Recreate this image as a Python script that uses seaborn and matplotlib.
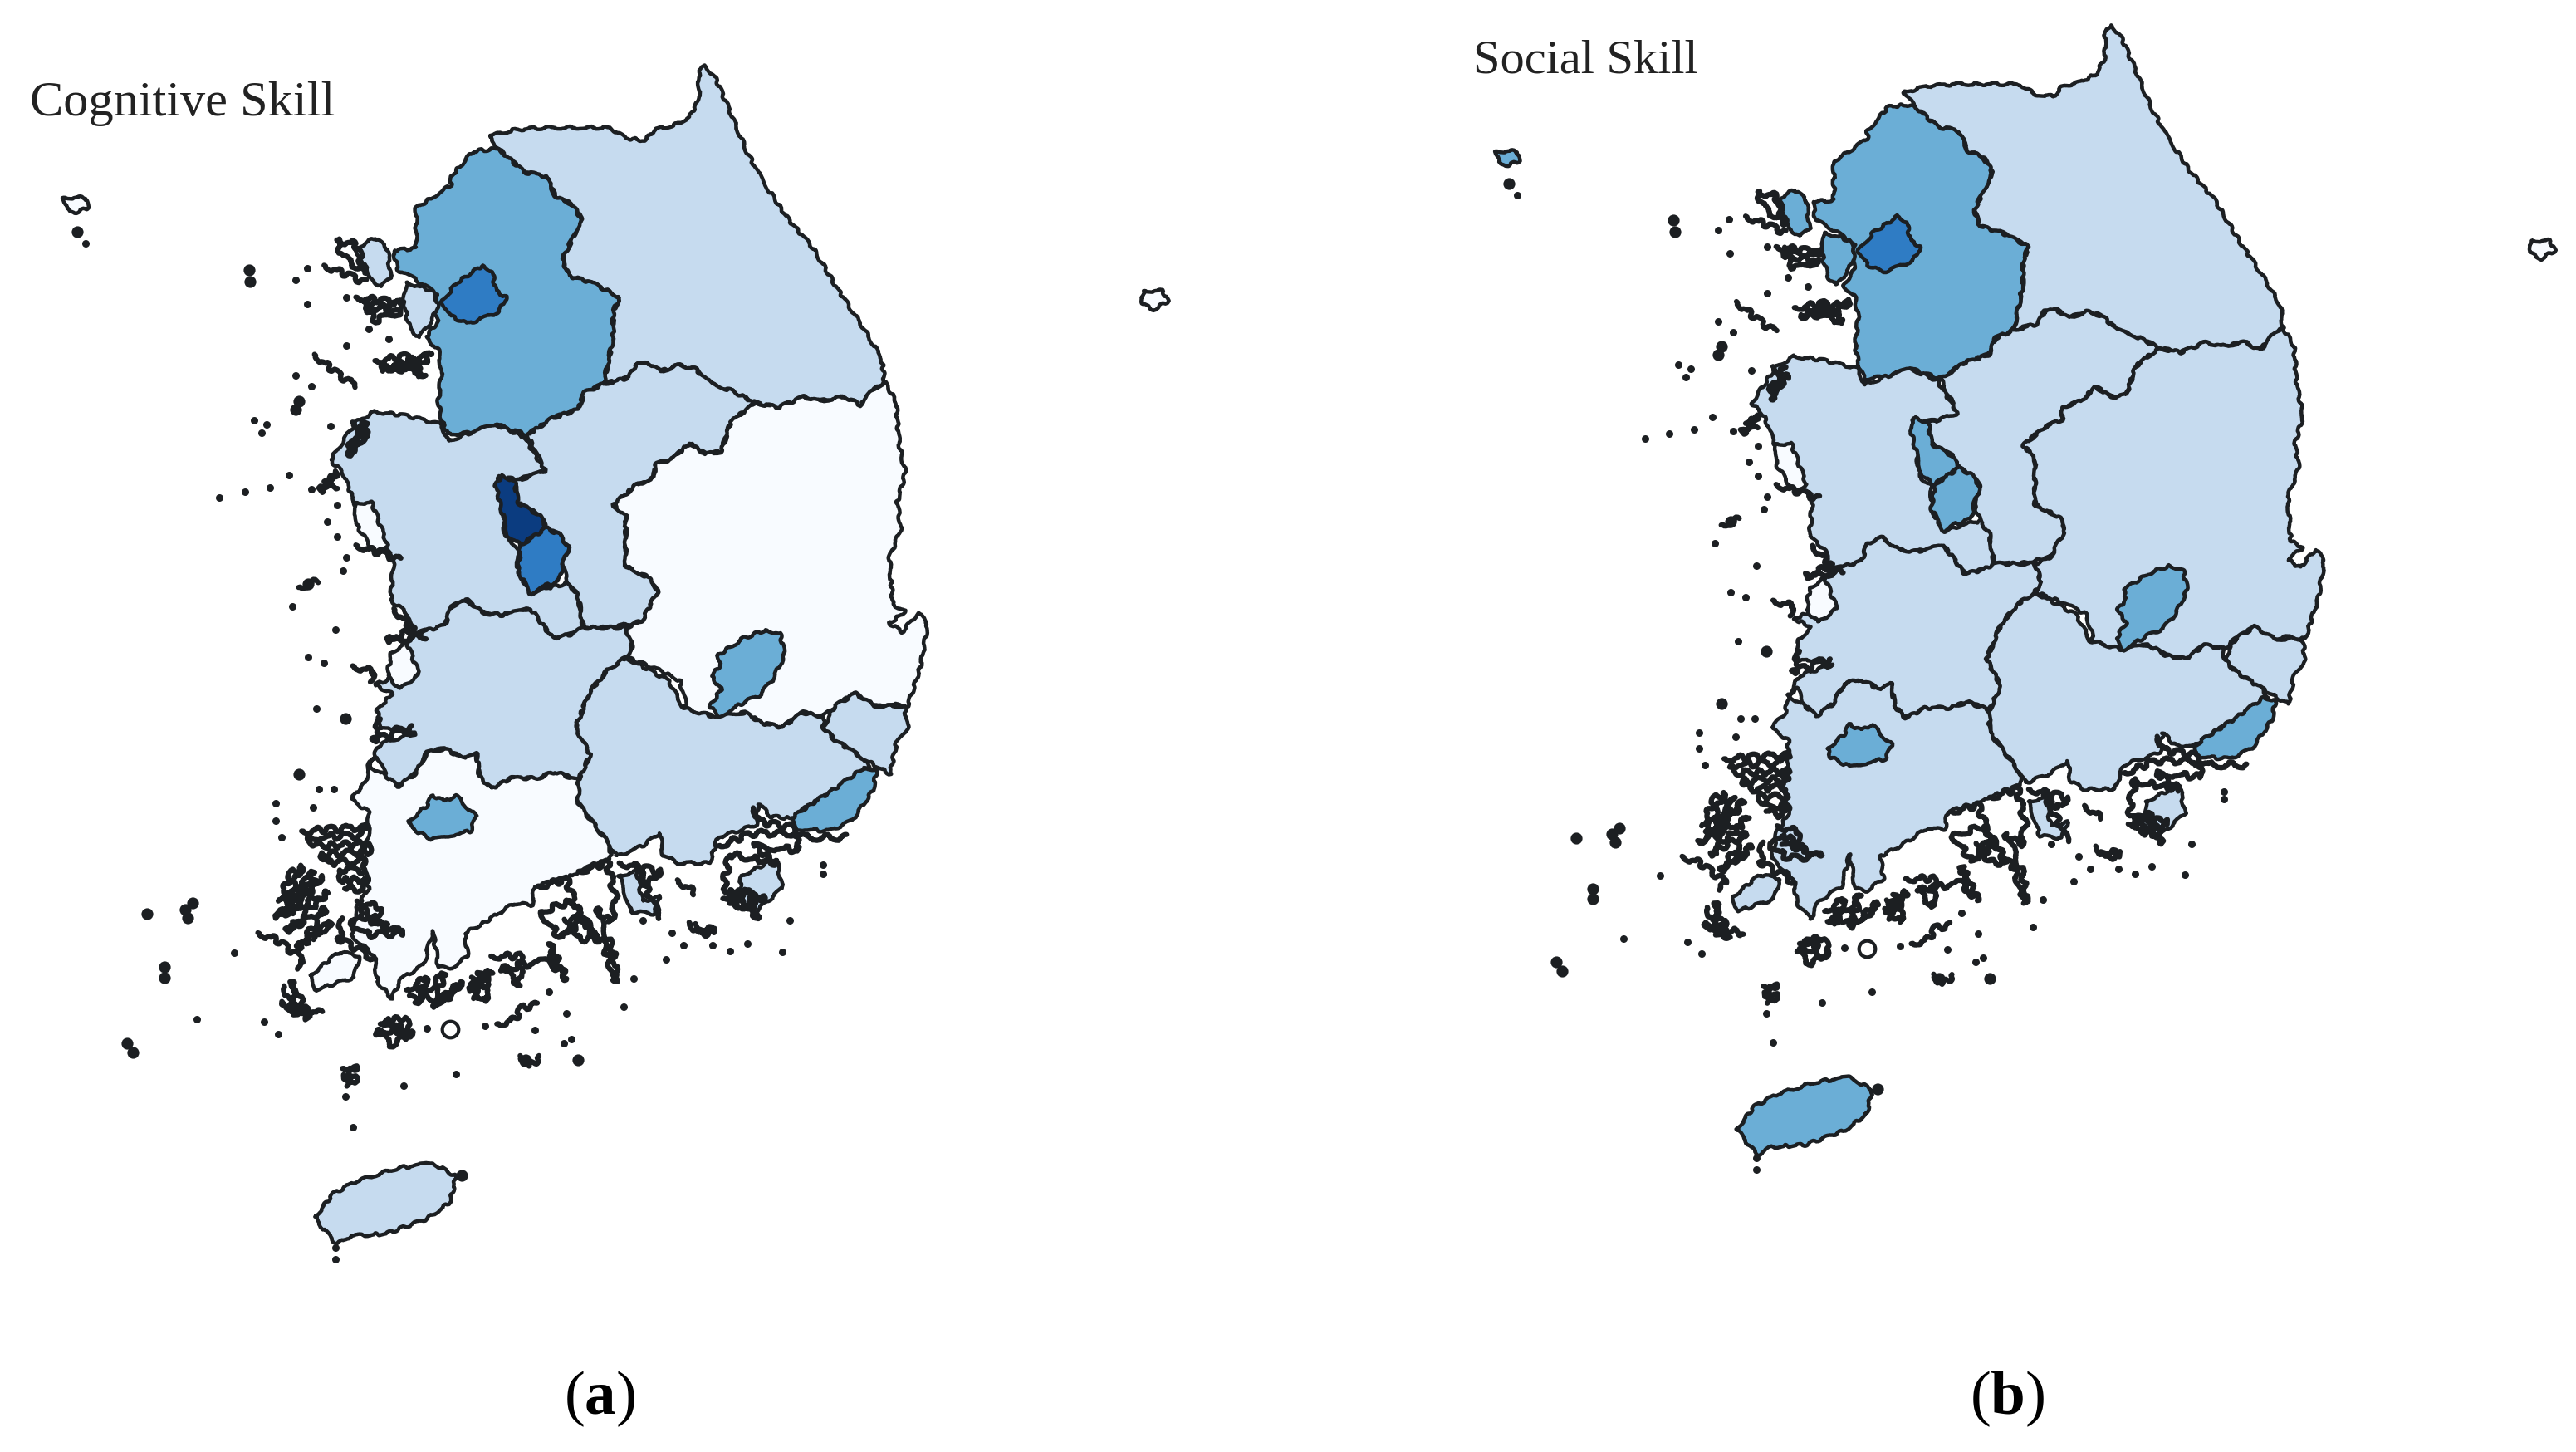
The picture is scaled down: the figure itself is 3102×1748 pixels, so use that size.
import matplotlib
matplotlib.use("Agg")
import matplotlib.pyplot as plt
from matplotlib.patches import Polygon
import seaborn as sns

sns.set_theme(style="white")
plt.rcParams["font.family"] = ["Liberation Serif", "DejaVu Serif"]
plt.rcParams["mathtext.fontset"] = "custom"
plt.rcParams["mathtext.rm"] = "Liberation Serif"
plt.rcParams["mathtext.bf"] = "Liberation Serif:bold"

W, H = 3102, 1749
INK = "#1c1f22"
CLASS_COLORS = ["#F8FBFF", "#C6DBEF", "#6BAED6", "#2F7CC4", "#0B3C80"]
PALETTE = sns.color_palette(CLASS_COLORS)

def n(pts):  # northern trace units to map units
    return [(x / 1.307, 50 + y / 1.96) for x, y in pts]
def s(pts):  # southern trace units to map units
    return [(100 + x / 1.425, 800 + y / 1.96) for x, y in pts]

GANGWON = n([(1110,60),(1125,85),(1150,170),(1175,260),(1200,330),(1240,420),(1280,490),(1320,590),(1360,680),(1388,750),(1392,805),(1370,830),(1355,860),(1330,840),(1290,850),(1265,840),(1225,865),(1190,855),(1150,825),(1120,810),(1095,775),(1070,765),(1040,780),(1020,760),(1000,765),(990,795),(950,810),(965,700),(965,640),(975,605),(930,570),(895,555),(885,515),(900,470),(915,420),(900,385),(875,370),(860,320),(825,310),(810,290),(785,255),(770,225),(810,210),(860,205),(910,205),(960,205),(985,230),(1015,235),(1030,210),(1060,200),(1085,180),(1100,140),(1100,70)])
GYEONGGI = n([(785,255),(810,290),(825,310),(860,320),(875,370),(900,385),(915,420),(900,470),(885,515),(895,555),(930,570),(975,605),(965,640),(965,700),(950,810),(920,830),(910,870),(870,890),(830,930),(780,905),(740,925),(705,930),(695,895),(690,850),(695,780),(690,730),(670,700),(690,660),(680,620),(690,600),(650,560),(625,540),(620,495),(655,490),(655,395),(710,340),(710,320),(745,260)])
SEOUL = n([(760,530),(775,545),(780,590),(797,605),(785,640),(760,655),(735,668),(710,650),(695,615),(720,570),(740,550)])
INCHEON = n([(640,570),(680,590),(690,620),(680,660),(660,700),(645,680),(635,620)])
GANGHWA = n([(560,490),(590,465),(610,490),(615,560),(600,580),(580,560)])
BAENGNYEONG = n([(100,370),(135,370),(138,395),(120,405),(105,398)])
ULLEUNG = n([(1800,590),(1830,590),(1838,615),(1815,635),(1797,620)])
CHUNGNAM = n([(590,875),(640,885),(695,905),(705,945),(740,925),(780,905),(825,935),(858,1015),(830,1030),(810,1035),(785,1030),(790,1100),(795,1170),(815,1195),(815,1250),(835,1305),(865,1290),(895,1280),(910,1310),(918,1385),(900,1400),(870,1410),(850,1370),(835,1340),(790,1355),(760,1350),(735,1320),(710,1335),(700,1380),(650,1400),(640,1350),(615,1320),(620,1220),(600,1190),(575,1150),(555,1080),(540,1020),(520,990),(540,945),(560,900)])
SEJONG = n([(790,1025),(810,1040),(815,1090),(850,1120),(860,1150),(820,1190),(800,1170),(790,1110),(780,1050)])
DAEJEON = n([(820,1190),(860,1150),(880,1165),(895,1195),(885,1240),(880,1275),(850,1290),(835,1305),(815,1250)])
CHUNGBUK = n([(950,810),(990,795),(1000,765),(1020,760),(1040,780),(1070,765),(1095,775),(1120,810),(1150,825),(1190,855),(1175,870),(1150,900),(1135,970),(1110,975),(1085,950),(1060,985),(1030,1000),(1030,1030),(1000,1050),(965,1095),(985,1120),(985,1240),(1025,1270),(1035,1300),(1010,1370),(960,1385),(918,1385),(910,1310),(895,1280),(885,1240),(895,1195),(880,1165),(860,1150),(850,1120),(815,1090),(810,1040),(858,1015),(830,930),(870,890),(910,870),(920,830)])
GYEONGBUK = n([(1190,855),(1225,865),(1265,840),(1290,850),(1330,840),(1355,860),(1370,830),(1392,805),(1410,850),(1415,950),(1425,1020),(1412,1090),(1418,1150),(1400,1220),(1405,1330),(1425,1345),(1400,1375),(1420,1395),(1445,1350),(1460,1375),(1450,1470)]) + s([(1415,100),(1380,95),(1355,100),(1325,70),(1290,100),(1270,125),(1235,115),(1200,150),(1165,140),(1135,115),(1085,125),(1030,105)]) + n([(1080,1568),(1070,1510),(1030,1480),(985,1455),(995,1430),(985,1385),(1010,1370),(1035,1300),(1025,1270),(985,1240),(985,1120),(965,1095),(1000,1050),(1030,1030),(1030,1000),(1060,985),(1085,950),(1110,975),(1135,970),(1150,900),(1175,870)])
DAEGU = n([(1205,1390),(1228,1400),(1235,1450),(1215,1510),(1195,1545),(1172,1560),(1130,1597),(1118,1570),(1135,1530),(1120,1500),(1135,1470),(1130,1450),(1155,1425),(1170,1410)])
ULSAN = s([(1270,150),(1290,100),(1325,70),(1360,100),(1410,100),(1415,150),(1395,190),(1385,260),(1365,245),(1335,220),(1290,180)])
GYEONGNAM = s([(931,-15),(1005,40),(1025,90),(1030,105),(1085,125),(1135,115),(1165,140),(1200,150),(1235,115),(1270,125),(1270,150),(1290,180),(1335,220),(1350,245),(1300,290),(1240,340),(1215,365),(1180,360),(1160,330),(1155,380),(1090,410),(1075,470),(1020,470),(995,450),(990,400),(960,430),(915,455),(905,430),(850,330),(850,275),(870,215),(845,150),(870,65),(900,15)])
BUSAN = s([(1340,245),(1362,250),(1355,300),(1320,370),(1280,395),(1225,390),(1215,365),(1240,340),(1290,295)])
JEONBUK = n([(650,1400),(700,1380),(710,1335),(735,1320),(760,1350),(790,1355),(835,1340),(850,1370),(870,1410),(900,1400),(918,1385),(985,1385),(995,1430),(985,1455)]) + s([(900,15),(870,65),(845,150),(870,215),(850,275),(810,255),(780,270),(735,270),(700,295),(680,265),(675,210),(655,225),(620,200),(590,210),(570,260),(540,290),(520,265),(505,220),(490,240),(510,190),(555,170),(570,165),(550,150),(510,155),(505,110),(530,70),(500,50),(555,20)]) + n([(655,1500),(640,1420)])
SAEMANGEUM = n([(615,1445),(640,1420),(660,1495),(630,1530),(610,1500)])
JEONNAM = s([(490,240),(520,265),(540,290),(570,260),(590,210),(620,200),(655,225),(675,210),(680,265),(700,295),(735,270),(780,270),(810,255),(850,275),(850,330),(905,430),(905,460),(850,490),(840,500),(775,525),(770,570),(740,565),(690,610),(655,635),(660,690),(630,720),(610,715),(600,630),(585,710),(545,745),(530,790),(505,750),(500,690),(460,640),(470,575),(490,530),(480,440),(490,410),(490,350),(460,320),(485,280)])
GWANGJU = s([(560,370),(590,335),(600,310),(620,325),(640,310),(660,340),(675,360),(665,395),(630,405),(600,415),(565,390)])
JEJU = s([(398,1305),(430,1250),(470,1220),(540,1190),(600,1178),(640,1210),(630,1270),(590,1310),(520,1345),(460,1350),(435,1370),(410,1330)])
JINDO = s([(390,735),(440,680),(475,690),(465,740),(400,770)])
NAMHAE = s([(920,500),(950,490),(960,560),(990,550),(980,590),(940,585)])
GEOJE = s([(1130,500),(1190,460),(1200,530),(1150,590),(1125,550)])
ANMYEON = n([(560,1090),(585,1090),(610,1190),(590,1210),(560,1140)])

REGIONS = [GANGWON, GYEONGGI, INCHEON, GANGHWA, BAENGNYEONG, ULLEUNG, CHUNGNAM, CHUNGBUK, GYEONGBUK, ULSAN, GYEONGNAM, JEONBUK, SAEMANGEUM, JEONNAM, JINDO, NAMHAE, GEOJE, ANMYEON, JEJU, SEOUL, SEJONG, DAEJEON, DAEGU, BUSAN, GWANGJU]
COGNITIVE = [1, 2, 1, 1, 0, 0, 1, 1, 0, 1, 1, 1, 0, 0, 0, 1, 1, 0, 1, 3, 4, 3, 2, 2, 2]
SOCIAL =    [1, 2, 2, 2, 2, 0, 1, 1, 1, 1, 1, 1, 0, 1, 1, 1, 1, 0, 2, 3, 2, 2, 2, 2, 2]

SCRIBBLES = [
 s([(375,395),(490,385),(480,405),(385,410),(400,430),(490,425),(490,445),(410,450),(420,470),(485,465),(485,490),(440,485),(445,510),(490,510),(480,535),(450,525)]),
 s([(335,560),(360,490),(375,480),(345,580),(395,490),(360,590),(410,500),(330,600),(420,540),(350,630),(415,580),(370,670),(425,610),(395,650)]),
 s([(300,635),(330,650),(360,680),(380,700),(365,715)]),
 s([(445,600),(440,650),(480,680),(500,700)]),
 s([(470,560),(510,575),(500,610),(550,635),(490,640),(460,610),(480,580),(520,620),(480,600)]),
 s([(345,760),(365,830),(360,750),(385,835),(340,800),(410,825)]),
 s([(510,850),(550,835),(565,870),(530,900),(505,870),(545,860),(520,840),(555,885)]),
 s([(555,770),(590,740),(570,800),(620,730),(600,810),(650,750),(625,790),(560,790)]),
 s([(670,790),(680,730),(695,795),(660,770),(700,725),(690,760),(665,745)]),
 s([(700,690),(750,690),(750,760),(720,720),(800,700),(830,745),(800,660),(810,720)]),
 s([(780,525),(830,510),(850,590),(820,650),(785,585),(840,560),(880,650),(860,600),(830,640)]),
 s([(850,490),(900,470),(915,560),(905,610),(880,580),(910,680),(915,750),(890,650),(850,650),(830,600)]),
 s([(920,470),(990,490),(970,520),(950,480),(990,600)]),
 s([(1020,510),(1050,540)]),
 s([(1090,430),(1150,400),(1220,400),(1230,440),(1150,430),(1190,470),(1110,450),(1100,520),(1120,580),(1170,550),(1110,540),(1160,600),(1140,530),(1100,560)]),
 s([(1150,340),(1165,375),(1215,385),(1240,410),(1310,410)]),
 s([(1040,610),(1060,640),(1085,630),(1050,620)]),
 s([(710,850),(740,840),(755,810),(780,805)]),
 s([(750,925),(765,950),(785,930)]),
 s([(445,955),(470,950),(445,975),(470,980),(455,1000)]),
 s([(510,130),(500,180),(565,150)]),
 n([(510,530),(575,570)]),
 n([(530,470),(560,480),(575,550),(540,510),(530,470)]),
 n([(560,605),(635,620),(575,625),(630,640),(590,660),(570,610)]),
 n([(495,740),(530,785),(560,815)]),
 n([(590,755),(640,745),(670,790),(620,770),(660,765),(600,775),(680,740),(650,780)]),
 n([(555,900),(580,930),(550,960),(575,900),(550,980),(570,950)]),
 n([(510,1040),(530,1020),(505,1060),(530,1050)]),
 n([(560,1190),(600,1210),(630,1225)]),
 n([(470,1290),(500,1275)]),
 n([(555,1475),(590,1490),(580,1510)]),
 n([(620,1340),(650,1390),(610,1415),(670,1405)]),
]
DOTS = (
 s([(400,105),(405,295),(430,295),(395,340),(330,330),(330,370),(340,410),(260,682),(195,838),(310,845),(335,875),(590,860),(690,855),(775,865),(800,775),(830,825),(825,895),(838,885),(640,968),(550,995),(450,1022),(463,1093),(433,1378),(433,1405),(928,810),(945,742),(1000,697),(1030,665),(1080,665),(1110,678),(1140,660),(1200,680),(1212,605),(1270,495),(1270,475),(960,605),(1010,635)])
 + n([(135,478),(465,565),(483,538),(484,622),(545,605),(580,680),(612,703),(545,720),(465,790),(490,815),(400,895),(420,905),(412,925),(520,910),(345,1078),(385,1065),(425,1055),(455,1025),(490,1058),(530,1095),(515,1135),(530,1170),(545,1220),(540,1250),(460,1335),(528,1390),(485,1455),(510,1468)])
)
BIG_DOTS = (
 s([(450,130),(370,260),(110,590),(180,600),(175,580),(188,565),(140,715),(140,740),(75,895),(85,918),(850,935),(760,935),(650,1208)])
 + n([(122,450),(392,540),(394,568),(470,850),(465,870),(485,1282)])
)
RING = s([(630,862)])
DOT_X = [p[0] for p in DOTS]
DOT_Y = [p[1] for p in DOTS]
BIG_X = [p[0] for p in BIG_DOTS]
BIG_Y = [p[1] for p in BIG_DOTS]

def draw_map(ax, classes):
    for outline, c in zip(REGIONS, classes):
        patch = Polygon(outline, closed=True, facecolor=PALETTE[c], edgecolor=INK,
                        linewidth=3.2, joinstyle="round", zorder=2)
        patch.set_sketch_params(scale=1.6, length=40, randomness=8)
        ax.add_patch(patch)
    for line in SCRIBBLES:
        l, = ax.plot([p[0] for p in line], [p[1] for p in line], color=INK, lw=4.5,
                     solid_joinstyle="round", zorder=3)
        l.set_sketch_params(scale=3.5, length=40, randomness=8)
    sns.scatterplot(x=DOT_X, y=DOT_Y, ax=ax, color=INK, s=42, linewidth=0, legend=False, zorder=3)
    sns.scatterplot(x=BIG_X, y=BIG_Y, ax=ax, color=INK, s=105, linewidth=0, legend=False, zorder=3)
    sns.scatterplot(x=[RING[0][0]], y=[RING[0][1]], ax=ax, facecolor="white", edgecolor=INK,
                    s=200, linewidth=3, legend=False, zorder=3)

fig = plt.figure(figsize=(W / 100, H / 100), dpi=100, facecolor="white")
ax_a = fig.add_axes([0, 1 - 1600 / H, 1500 / W, 1600 / H])
ax_a.set_xlim(0, 1500); ax_a.set_ylim(1600, 0)
k = 0.959
x0 = 2542 - k * 849
ax_b = fig.add_axes([x0 / W, 1 - k * (1600 - 48) / H, k * 1425 / W, k * (1600 - 48) / H])
ax_b.set_xlim(0, 1425); ax_b.set_ylim(1600, 48)
for ax, cl in ((ax_a, COGNITIVE), (ax_b, SOCIAL)):
    ax.axis("off")
    draw_map(ax, cl)

fig.text(36 / W, 1 - 125 / H, "Cognitive Skill", fontsize=43.5, color="#222222", ha="left", va="center")
fig.text(1774 / W, 1 - 74 / H, "Social Skill", fontsize=42, color="#222222", ha="left", va="center")
fig.text(722 / W, 1 - 1684 / H, r"($\mathbf{a}$)", fontsize=54, color="black", ha="center", va="center")
fig.text(2417 / W, 1 - 1684 / H, r"($\mathbf{b}$)", fontsize=54, color="black", ha="center", va="center")
fig.savefig("out.png", dpi=100, facecolor="white")
